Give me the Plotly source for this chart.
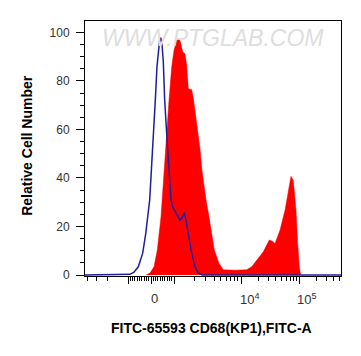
import numpy as np
import plotly.graph_objects as go

# ---- data (x in biexponential display channels, y = relative cell number) ----
blue_x = [-66, -26, -21, -17, -12.7, -8.3, -5.3, -1.3, 0.7, 2.7, 4.3, 6, 7.3, 8.7, 9.7,
          11, 12.3, 13.7, 15.7, 17.7, 20, 21.7, 25.7, 29, 31, 33.3, 35, 37.3, 40.7, 44, 47, 51, 190]
blue_y = [0, 0, 0.3, 1.2, 3.4, 9, 17, 31, 44.6, 58.3, 72, 86, 93, 97, 97.8,
          95, 88, 72, 58, 44.6, 31, 28, 25.3, 22.6, 23.5, 25.8, 22.5, 17, 9, 3.4, 1, 0, 0]

red_x = [-5, -1, 3, 6.3, 10, 13.3, 15.7, 18, 20.7, 23, 25.7, 28, 29.5, 31.7, 34, 35.7, 37.3,
         40.7, 42.3, 45.7, 49, 51, 53, 55, 58, 60.7, 63.3, 68, 72.3, 84, 95.7, 100.7, 105.7,
         112.3, 118.3, 121, 124, 129, 134, 137.3, 140, 142.3, 145, 146.7, 148.3, 149.7]
red_y = [0, 0.8, 3.4, 10.3, 24, 44.6, 58.3, 72, 85.7, 92.6, 96.7, 97.4, 96, 91.9, 91.2, 86.4, 76.8,
         76.4, 73, 63, 52, 43, 36, 31, 24, 17, 10.3, 4.8, 2.2, 2, 2.2, 3.4, 6.2,
         9.6, 14.4, 14, 13, 18.5, 26.7, 35, 40.7, 39, 26.7, 13, 3.4, 0]

y_ticks = [0, 20, 40, 60, 80, 100]
x_major = [-1000, 0, 1000, 1e4, 1e5]
x_labels = [(0, "0", 3), (1e4, "10<sup>4</sup>", 9), (1e5, "10<sup>5</sup>", 8)]
x_minor = ([-v for v in range(2000, 10000, 1000)] + [-v for v in range(100, 1000, 100)]
           + list(range(100, 1000, 100)) + list(range(2000, 10000, 1000))
           + [k * 1e4 for k in range(2, 10)] + [k * 1e5 for k in range(2, 6)])


def biex(v):
    """Biexponential-style display transform: linear near 0, log above 10^3."""
    v = np.asarray(v, dtype=float)
    a = np.abs(v)
    lin, d1, d2 = 23.0, 67.0, 58.0
    d = np.where(a <= 1000, a / 1000 * lin,
                 np.where(a <= 1e4, lin + (np.log10(np.maximum(a, 1)) - 3) * d1,
                          lin + d1 + (np.log10(np.maximum(a, 1)) - 4) * d2))
    return (np.sign(v) * d).tolist()


FONT = "Arial, Liberation Sans, sans-serif"

fig = go.Figure()
fig.add_trace(go.Scatter(x=red_x, y=red_y, mode="lines", fill="tozeroy",
                         fillcolor="#ff0000", line=dict(color="#ff0000", width=0.5),
                         hoverinfo="skip", showlegend=False))
fig.add_trace(go.Scatter(x=blue_x, y=blue_y, mode="lines",
                         line=dict(color="#1f1f9a", width=1.5),
                         hoverinfo="skip", showlegend=False))

fig.update_layout(
    width=361, height=356,
    margin=dict(l=85, r=20, t=21, b=80),
    paper_bgcolor="white", plot_bgcolor="white",
    font=dict(family=FONT, color="#222"),
    xaxis=dict(range=[-66, 190], showgrid=False, zeroline=False,
               showline=True, mirror=True, linecolor="black", linewidth=1,
               tickmode="array", tickvals=biex(x_major), showticklabels=False,
               ticks="outside", ticklen=7, tickcolor="black", tickwidth=1,
               minor=dict(tickmode="array", tickvals=biex(x_minor), ticks="outside",
                          ticklen=4, tickcolor="black", tickwidth=1, showgrid=False)),
    yaxis=dict(range=[-0.4, 104.7], showgrid=False, zeroline=False,
               showline=True, mirror=True, linecolor="black", linewidth=1,
               tickmode="array", tickvals=y_ticks,
               ticks="outside", ticklen=8, tickcolor="black", tickwidth=1,
               tickfont=dict(size=12, color="#333"), ticklabelstandoff=4,
               minor=dict(dtick=5, ticks="outside", ticklen=4, tickcolor="black",
                          tickwidth=1, showgrid=False)),
)

annotations = []
for v, txt, sh in x_labels:
    annotations.append(dict(x=biex([v])[0], y=-0.09, xref="x", yref="paper", text=txt,
                            showarrow=False, xanchor="center", yanchor="middle", xshift=sh,
                            font=dict(size=13, color="#333", family=FONT)))
annotations.append(dict(x=0.496, y=-0.204, xref="paper", yref="paper",
                        text="<b>FITC-65593 CD68(KP1),FITC-A</b>", showarrow=False,
                        xanchor="center", yanchor="middle",
                        font=dict(size=14, color="black", family=FONT)))
annotations.append(dict(x=-0.227, y=0.514, xref="paper", yref="paper",
                        text="<b>Relative Cell Number</b>", showarrow=False, textangle=-90,
                        xanchor="center", yanchor="middle",
                        font=dict(size=14, color="black", family=FONT)))
annotations.append(dict(x=0.5, y=0.933, xref="paper", yref="paper",
                        text="<i>WWW.PTGLAB.COM</i>", showarrow=False,
                        xanchor="center", yanchor="middle",
                        font=dict(size=23, color="#dedede", family=FONT)))
fig.update_layout(annotations=annotations)

fig.write_html("out.html")
